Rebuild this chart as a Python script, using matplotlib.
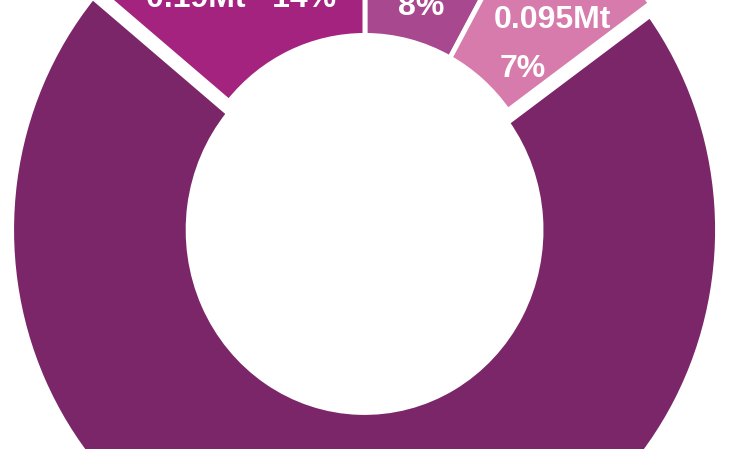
import matplotlib.pyplot as plt

# slices clockwise from 12 o'clock
shares = [8, 7, 71, 14]
colors = ['#A8488F', '#D67BAB', '#7B2669', '#A3237F']
explode = [0, 0, 0.033, 0]

label_texts = ['8%', '0.095Mt', '7%', '0.19Mt   14%']
label_pos = [(0.159, 0.556), (0.530, 0.521), (0.448, 0.386), (-0.351, 0.578)]

fig = plt.figure(figsize=(7.5, 4.49), dpi=100)
ax = fig.add_axes([0, 0, 1, 1])

ax.pie(shares, colors=colors, explode=explode, startangle=90, counterclock=False,
       wedgeprops=dict(width=0.5, edgecolor='white', linewidth=3.5))

# the reference is stretched vertically
ax.set_aspect('auto')
ax.set_xlim(-1.034, 1.091)
ax.set_ylim(-0.633, 0.597)
ax.axis('off')

for txt, (x, y) in zip(label_texts, label_pos):
    ax.text(x, y, txt, color='white', fontsize=23, fontweight='bold',
            family=['Liberation Sans', 'DejaVu Sans'],
            ha='center', va='baseline')

fig.savefig('out.png', dpi=100, facecolor='white')
